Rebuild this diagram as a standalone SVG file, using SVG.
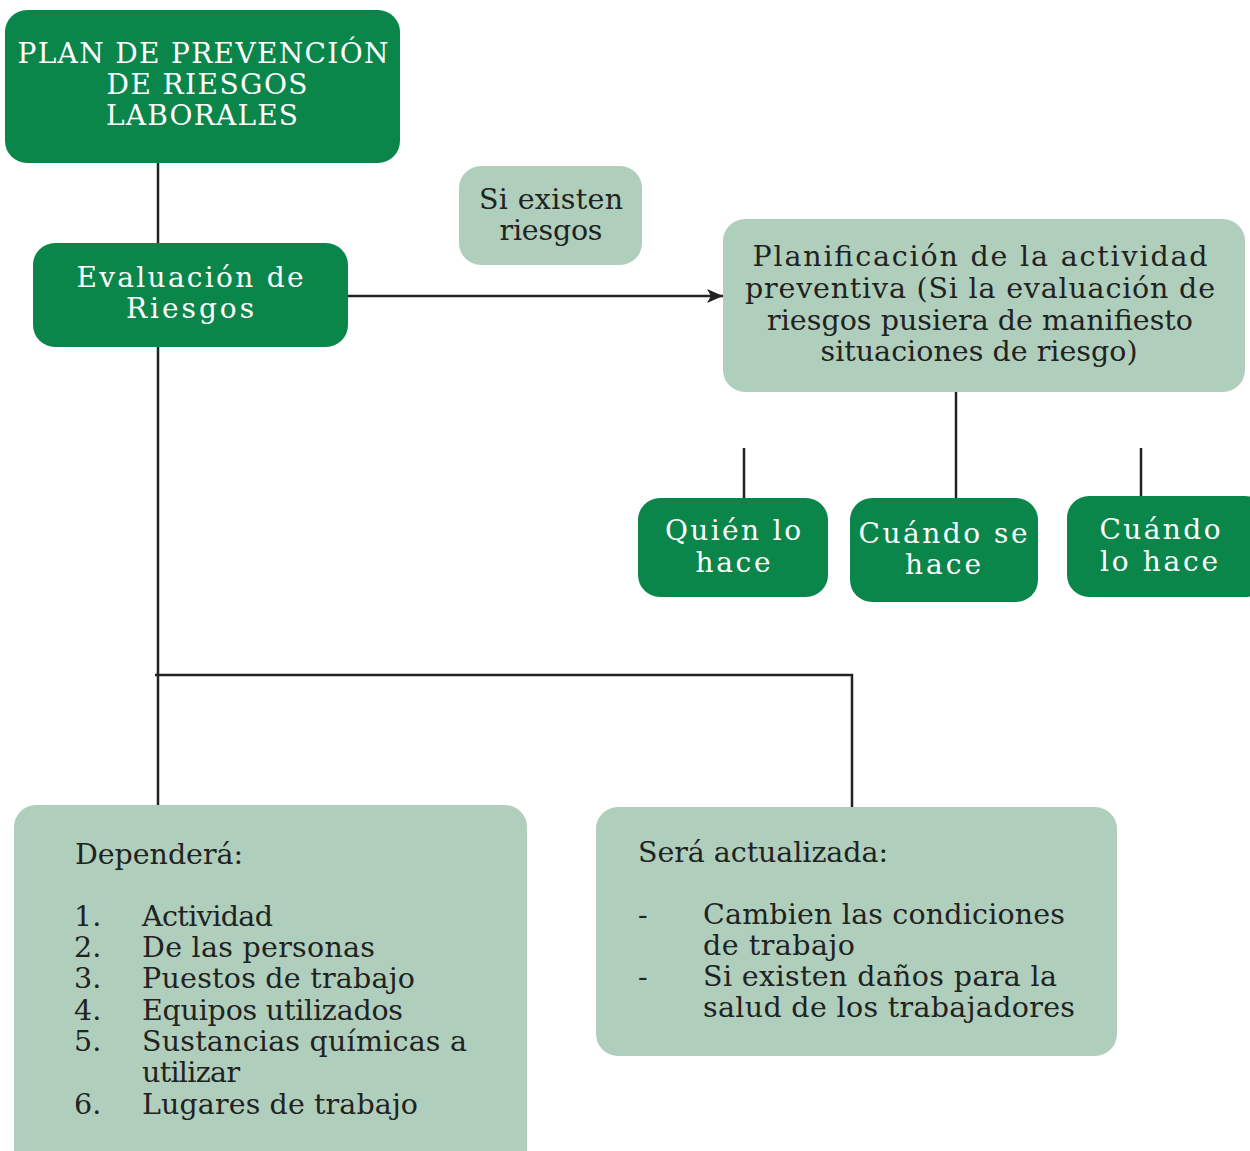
<svg xmlns="http://www.w3.org/2000/svg" width="1250" height="1151" viewBox="0 0 1250 1151">
<defs>
<style>
.dk{fill:#0a864b}
.lt{fill:#afcfbc}
.w{fill:#ffffff;font-family:"DejaVu Serif","Liberation Serif",serif;font-size:28px;text-anchor:middle}
.b{fill:#222222;font-family:"DejaVu Serif","Liberation Serif",serif;font-size:28.5px}
.bc{text-anchor:middle}
.ln{stroke:#222222;stroke-width:2.5;fill:none}
</style>
<marker id="ah" viewBox="0 0 16 14" refX="16" refY="7" markerWidth="16" markerHeight="14" markerUnits="userSpaceOnUse" orient="auto">
<path d="M0,0 L16,7 L0,14 L4,7 Z" fill="#222222"/>
</marker>
</defs>
<rect width="1250" height="1151" fill="#ffffff"/>
<g id="connectors">
<line class="ln" x1="158" y1="163" x2="158" y2="243"/>
<line class="ln" x1="158" y1="347" x2="158" y2="805"/>
<line class="ln" x1="348" y1="296" x2="723" y2="296" marker-end="url(#ah)"/>
<line class="ln" x1="956" y1="392" x2="956" y2="498"/>
<line class="ln" x1="744" y1="448" x2="744" y2="498"/>
<line class="ln" x1="1141" y1="448" x2="1141" y2="497"/>
<polyline class="ln" points="155,675 852,675 852,807"/>
</g>
<g id="plan">
<rect class="dk" x="5" y="10" width="395" height="153" rx="22"/>
<text class="w" x="203" y="63" textLength="371">PLAN DE PREVENCIÓN</text>
<text class="w" x="207" y="94" textLength="201">DE RIESGOS</text>
<text class="w" x="202" y="125" textLength="192">LABORALES</text>
</g>
<g id="evaluacion">
<rect class="dk" x="33" y="243" width="315" height="104" rx="22"/>
<text class="w" x="190" y="287" textLength="227">Evaluación de</text>
<text class="w" x="190" y="318" textLength="128">Riesgos</text>
</g>
<g id="si-existen">
<rect class="lt" x="459" y="166" width="183" height="99" rx="22"/>
<text class="b bc" x="551" y="209" textLength="144">Si existen</text>
<text class="b bc" x="551" y="240" textLength="103">riesgos</text>
</g>
<g id="planificacion">
<rect class="lt" x="723" y="219" width="522" height="173" rx="22"/>
<text class="b bc" x="980" y="266" textLength="455">Planificación de la actividad</text>
<text class="b bc" x="980" y="298" textLength="470">preventiva (Si la evaluación de</text>
<text class="b bc" x="980" y="330" textLength="426">riesgos pusiera de manifiesto</text>
<text class="b bc" x="979" y="361" textLength="317">situaciones de riesgo)</text>
</g>
<g id="quien">
<rect class="dk" x="638" y="498" width="190" height="99" rx="22"/>
<text class="w" x="733" y="540" textLength="136">Quién lo</text>
<text class="w" x="733" y="572" textLength="75">hace</text>
</g>
<g id="cuando-se">
<rect class="dk" x="850" y="498" width="188" height="104" rx="22"/>
<text class="w" x="943" y="543" textLength="169">Cuándo se</text>
<text class="w" x="943" y="574" textLength="76">hace</text>
</g>
<g id="cuando-lo">
<rect class="dk" x="1067" y="496" width="200" height="101" rx="22"/>
<text class="w" x="1160" y="539" textLength="121">Cuándo</text>
<text class="w" x="1159" y="571" textLength="118">lo hace</text>
</g>
<g id="dependera">
<rect class="lt" x="14" y="805" width="513" height="370" rx="22"/>
<text class="b" x="75" y="864" textLength="168">Dependerá:</text>
<text class="b" x="74" y="926">1.</text>
<text class="b" x="74" y="957">2.</text>
<text class="b" x="74" y="988">3.</text>
<text class="b" x="74" y="1020">4.</text>
<text class="b" x="74" y="1051">5.</text>
<text class="b" x="74" y="1114">6.</text>
<text class="b" x="142" y="926" textLength="131">Actividad</text>
<text class="b" x="142" y="957" textLength="233">De las personas</text>
<text class="b" x="142" y="988" textLength="273">Puestos de trabajo</text>
<text class="b" x="142" y="1020" textLength="261">Equipos utilizados</text>
<text class="b" x="142" y="1051" textLength="325">Sustancias químicas a</text>
<text class="b" x="142" y="1082" textLength="98">utilizar</text>
<text class="b" x="142" y="1114" textLength="276">Lugares de trabajo</text>
</g>
<g id="actualizada">
<rect class="lt" x="596" y="807" width="521" height="249" rx="22"/>
<text class="b" x="638" y="862" textLength="250">Será actualizada:</text>
<text class="b" x="638" y="924">-</text>
<text class="b" x="638" y="986">-</text>
<text class="b" x="703" y="924" textLength="362">Cambien las condiciones</text>
<text class="b" x="703" y="955" textLength="152">de trabajo</text>
<text class="b" x="703" y="986" textLength="354">Si existen daños para la</text>
<text class="b" x="703" y="1017" textLength="372">salud de los trabajadores</text>
</g>
</svg>
